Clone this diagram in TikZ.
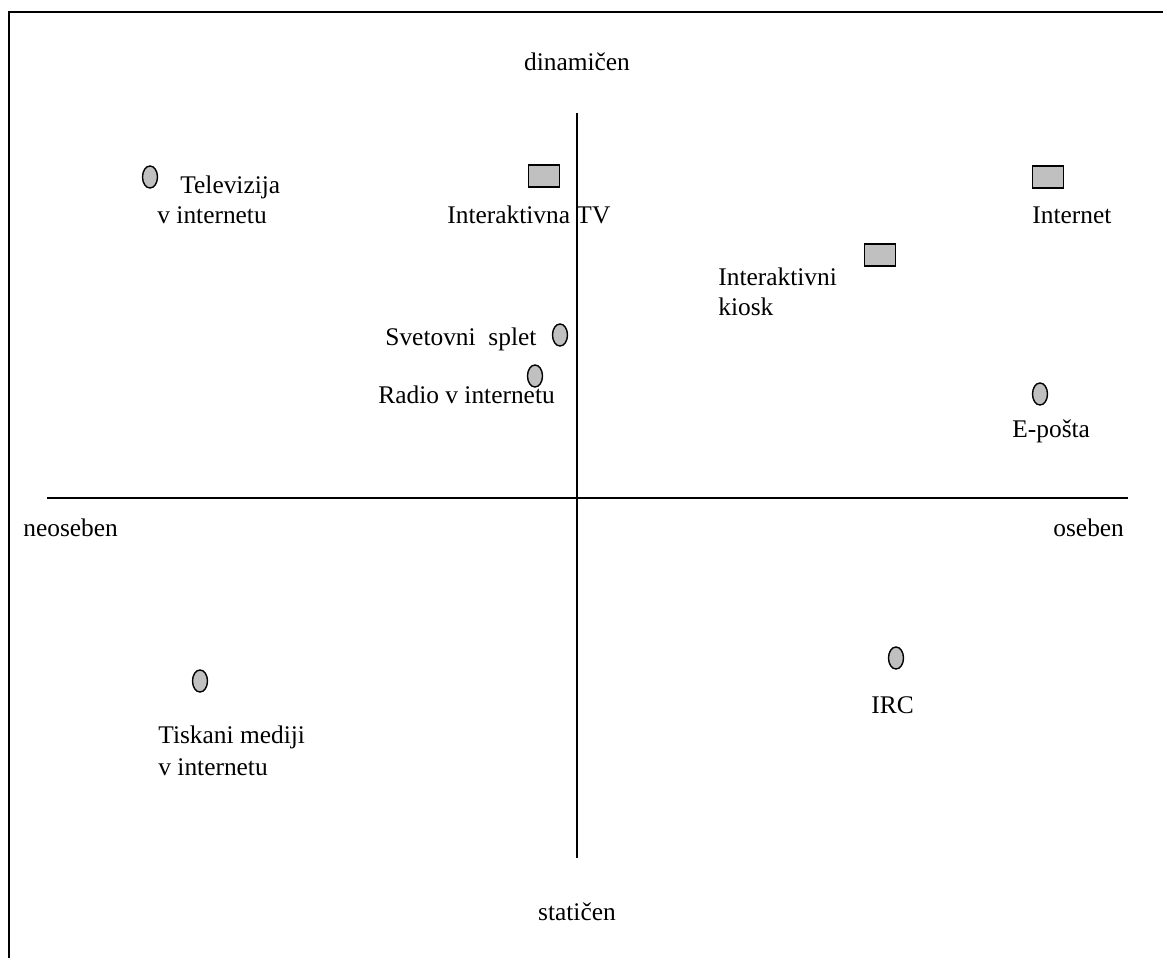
\documentclass[tikz,border=0pt]{standalone}
\usepackage{fontspec}
\setmainfont{Liberation Serif}
\usetikzlibrary{shapes.geometric}

\definecolor{oznakasiva}{RGB}{192,192,192}

\tikzset{
    krog/.style={ellipse, draw, line width=0.7pt, fill=oznakasiva, inner sep=0pt, minimum width=7.5pt, minimum height=11pt},
    pravok/.style={rectangle, draw, line width=0.8pt, fill=oznakasiva, inner sep=0pt, minimum width=15.5pt, minimum height=11pt},
    napis/.style={anchor=base west, inner sep=0pt, font=\fontsize{12.7}{15}\selectfont},
}

\begin{document}
\begin{tikzpicture}[x=0.5pt, y=-0.5pt]
    \useasboundingbox (0,0) rectangle (1163,958);

    % okvir
    \draw[line width=1pt] (9,958) -- (9,12) -- (1163,12);

    % osi
    \coordinate (gor) at (577,113);
    \coordinate (dol) at (577,858);
    \coordinate (lev) at (47,498);
    \coordinate (des) at (1128,498);
    \draw[line width=0.85pt] (gor) -- (dol);
    \draw[line width=0.85pt] (lev) -- (des);

    \node[napis, anchor=base] (dinamicen) at (577,70) {dinamičen};
    \node[napis, anchor=base] (staticen) at (577,920) {statičen};
    \node[napis] (neoseben) at (23,536) {neoseben};
    \node[napis] (oseben) at (1053,536) {oseben};

    % oznake
    \node[krog] (tvint) at (150,177) {};
    \node[pravok] (itv) at (544,176) {};
    \node[pravok] (internet) at (1048,177) {};
    \node[pravok] (kiosk) at (880,255) {};
    \node[krog] (splet) at (560,335) {};
    \node[krog] (radio) at (535,376) {};
    \node[krog] (eposta) at (1040,394) {};
    \node[krog] (irc) at (896,658) {};
    \node[krog] (tisk) at (200,681) {};

    % napisi
    \node[napis] (tvint1) at (180,193) {Televizija};
    \node[napis] (tvint2) at (157,223) {v internetu};
    \node[napis] (itvnap) at (447,223) {Interaktivna TV};
    \node[napis] (internetnap) at (1032,223) {Internet};
    \node[napis] (kiosk1) at (718,285) {Interaktivni};
    \node[napis] (kiosk2) at (718,315) {kiosk};
    \node[napis] (spletnap) at (385,345) {Svetovni\ \ splet};
    \node[napis] (radionap) at (378,403) {Radio v internetu};
    \node[napis] (epostanap) at (1012,437) {E-pošta};
    \node[napis] (ircnap) at (871,713) {IRC};
    \node[napis] (tisk1) at (158,743) {Tiskani mediji};
    \node[napis] (tisk2) at (158,775) {v internetu};
\end{tikzpicture}
\end{document}
